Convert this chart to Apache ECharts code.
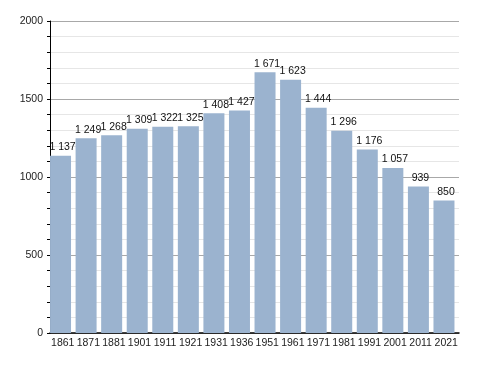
<!DOCTYPE html>
<html>
<head>
<meta charset="utf-8">
<script src="https://cdn.jsdelivr.net/npm/echarts@6/dist/echarts.min.js"></script>
<style>html,body{margin:0;padding:0;background:#fff;}#c{width:488px;height:373px;}</style>
</head>
<body>
<div id="c"></div>
<script>
var years = ['1861','1871','1881','1901','1911','1921','1931','1936','1951','1961','1971','1981','1991','2001','2011','2021'];
var population = [1137,1249,1268,1309,1322,1325,1408,1427,1671,1623,1444,1296,1176,1057,939,850];
var spacer = years.map(function(){ return null; });

function fmt(v){ return String(v).replace(/\B(?=(\d{3})+(?!\d))/g, ' '); }

var chart = echarts.init(document.getElementById('c'), null, {renderer:'canvas'});
chart.setOption({
  animation: false,
  backgroundColor: '#fff',
  textStyle: { fontFamily: 'Liberation Sans, Arial, sans-serif' },
  grid: { left: 50, right: 29, top: 21, bottom: 40, containLabel: false },
  xAxis: {
    type: 'category',
    data: years,
    axisLine: { lineStyle: { color: '#000', width: 1.5 } },
    axisTick: { show: false },
    axisLabel: { color: '#222', fontSize: 10.5, margin: 5, interval: 0 }
  },
  yAxis: {
    type: 'value',
    min: 0, max: 2000, interval: 500,
    axisLine: { show: true, lineStyle: { color: '#000', width: 1 } },
    axisTick: { show: true, length: 3, lineStyle: { color: '#000' } },
    minorTick: { show: true, splitNumber: 5, length: 3, lineStyle: { color: '#000' } },
    axisLabel: { color: '#222', fontSize: 10.5, margin: 7, formatter: function(v){ return String(v); } },
    splitLine: { show: true, lineStyle: { color: '#a8a8a8', width: 1 } },
    minorSplitLine: { show: true, lineStyle: { color: '#e6e6e6', width: 1 } }
  },
  series: [
    {
      type: 'bar',
      data: population,
      barWidth: 21,
      barGap: '0%',
      itemStyle: { color: '#9bb3cf' },
      label: {
        show: true, position: 'top', distance: 3, offset: [2, 0],
        color: '#111', fontSize: 10.5,
        formatter: function(p){ return fmt(p.value); }
      }
    },
    {
      type: 'bar',
      data: spacer,
      barWidth: 4.5,
      barGap: '0%',
      silent: true
    }
  ]
});
</script>
</body>
</html>
